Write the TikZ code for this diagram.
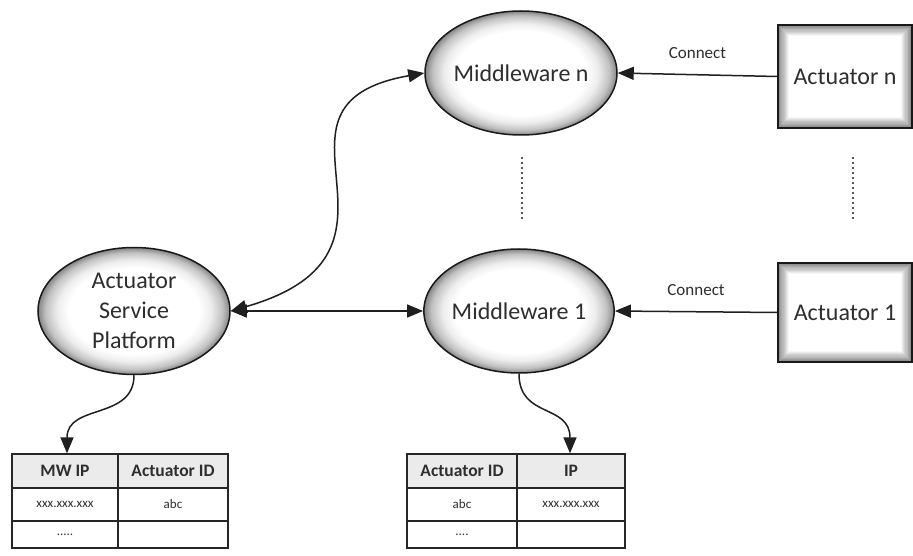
\documentclass[tikz,border=0pt]{standalone}
\usepackage{fontspec}
\setmainfont{Carlito}
\usetikzlibrary{arrows.meta,calc,shapes.geometric}

% soft grey rim for the ellipses
\pgfdeclareradialshading{rimshade}{\pgfpointorigin}{%
  color(0bp)=(white); color(17bp)=(white); color(20bp)=(black!7);
  color(23bp)=(black!24); color(25bp)=(black!48); color(50bp)=(black!50)}

\tikzset{
  x=1pt, y=1pt,
  txt/.style={text=black!82},
  ell/.style={ellipse, draw=black!90, line width=1.5pt, shading=rimshade,
    inner sep=0pt, align=center, font=\fontsize{24}{30}\selectfont, txt},
  bevelbox/.style={rectangle, draw=black!90, line width=1.6pt, fill=white,
    inner sep=0pt, font=\fontsize{24}{30}\selectfont, txt,
    path picture={
      \foreach \k in {0,...,9}{
        \pgfmathsetmacro\g{int(48-5*\k)}
        \fill[black!\g] ([shift={(\k*1.1pt,\k*1.1pt)}]path picture bounding box.south west)
          rectangle ([shift={(-\k*1.1pt,-\k*1.1pt)}]path picture bounding box.north east);
      }
      \fill[white] ([shift={(11pt,11pt)}]path picture bounding box.south west)
        rectangle ([shift={(-11pt,-11pt)}]path picture bounding box.north east);
    }},
  conn/.style={line width=1.5pt, draw=black!88},
  tip/.tip={Triangle[length=16pt,width=13pt]},
  arr/.style={conn, -tip},
  darr/.style={conn, tip-tip},
  lbl/.style={font=\fontsize{17}{20}\selectfont, txt},
  dotline/.style={line width=2pt, draw=black!65, dash pattern=on 2pt off 3pt},
  cell/.style={rectangle, draw=black!85, line width=1.3pt, inner sep=0pt,
    font=\fontsize{13}{15}\selectfont, txt},
  head/.style={cell, fill=black!8, font=\bfseries\fontsize{17.5}{20}\selectfont},
}

\begin{document}
\begin{tikzpicture}
\useasboundingbox[fill=white] (0,0) rectangle (913,555);

% ellipses
\node[ell, minimum width=192pt, minimum height=127pt] (asp) at (134,244) {Actuator\\Service\\Platform};
\node[ell, minimum width=192pt, minimum height=124pt] (mwn) at (521,482) {Middleware n};
\node[ell, minimum width=190pt, minimum height=124pt] (mw1) at (519,244) {Middleware 1};

% actuator boxes
\node[bevelbox, minimum width=134pt, minimum height=103pt] (actn) at (845,478.5) {Actuator n};
\node[bevelbox, minimum width=134pt, minimum height=99pt] (act1) at (845,242.5) {Actuator 1};

% connections
\draw[arr] (actn.west) -- node[lbl, midway, above=12pt] {Connect} (mwn.east);
\draw[arr] (act1.west) -- node[lbl, midway, above=12pt] {Connect} (mw1.east);
\draw[darr] (asp.east) -- (mw1.west);
\draw[darr] (asp.east) .. controls +(16:215) and +(190:185) .. (mwn.west);

% dotted continuation marks
\coordinate (d1a) at (522,398);
\coordinate (d1b) at (522,336);
\coordinate (d2a) at (853,398);
\coordinate (d2b) at (853,336);
\draw[dotline] (d1a) -- (d1b);
\draw[dotline] (d2a) -- (d2b);

% table of the service platform
\node[head, minimum width=106pt, minimum height=34pt] (t1h1) at (65,84) {MW IP};
\node[head, minimum width=110pt, minimum height=34pt] (t1h2) at (173,84) {Actuator ID};
\node[cell, minimum width=106pt, minimum height=33pt] (t1a1) at (65,50.5) {xxx.xxx.xxx};
\node[cell, minimum width=110pt, minimum height=33pt] (t1a2) at (173,50.5) {abc};
\node[cell, minimum width=106pt, minimum height=27pt] (t1b1) at (65,20.5) {.....};
\node[cell, minimum width=110pt, minimum height=27pt] (t1b2) at (173,20.5) {};

% table of the middleware
\node[head, minimum width=110pt, minimum height=34pt] (t2h1) at (462,84) {Actuator ID};
\node[head, minimum width=108pt, minimum height=34pt] (t2h2) at (571,84) {IP};
\node[cell, minimum width=110pt, minimum height=33pt] (t2a1) at (462,50.5) {abc};
\node[cell, minimum width=108pt, minimum height=33pt] (t2a2) at (571,50.5) {xxx.xxx.xxx};
\node[cell, minimum width=110pt, minimum height=27pt] (t2b1) at (462,20.5) {....};
\node[cell, minimum width=108pt, minimum height=27pt] (t2b2) at (571,20.5) {};

% lookups into the tables
\draw[arr] (asp.south) .. controls +(0,-45) and +(0,50) .. ([xshift=2pt]t1h1.north);
\draw[arr] (mw1.south) .. controls +(0,-45) and +(0,50) .. ([xshift=-1pt]t2h2.north);
\end{tikzpicture}
\end{document}
